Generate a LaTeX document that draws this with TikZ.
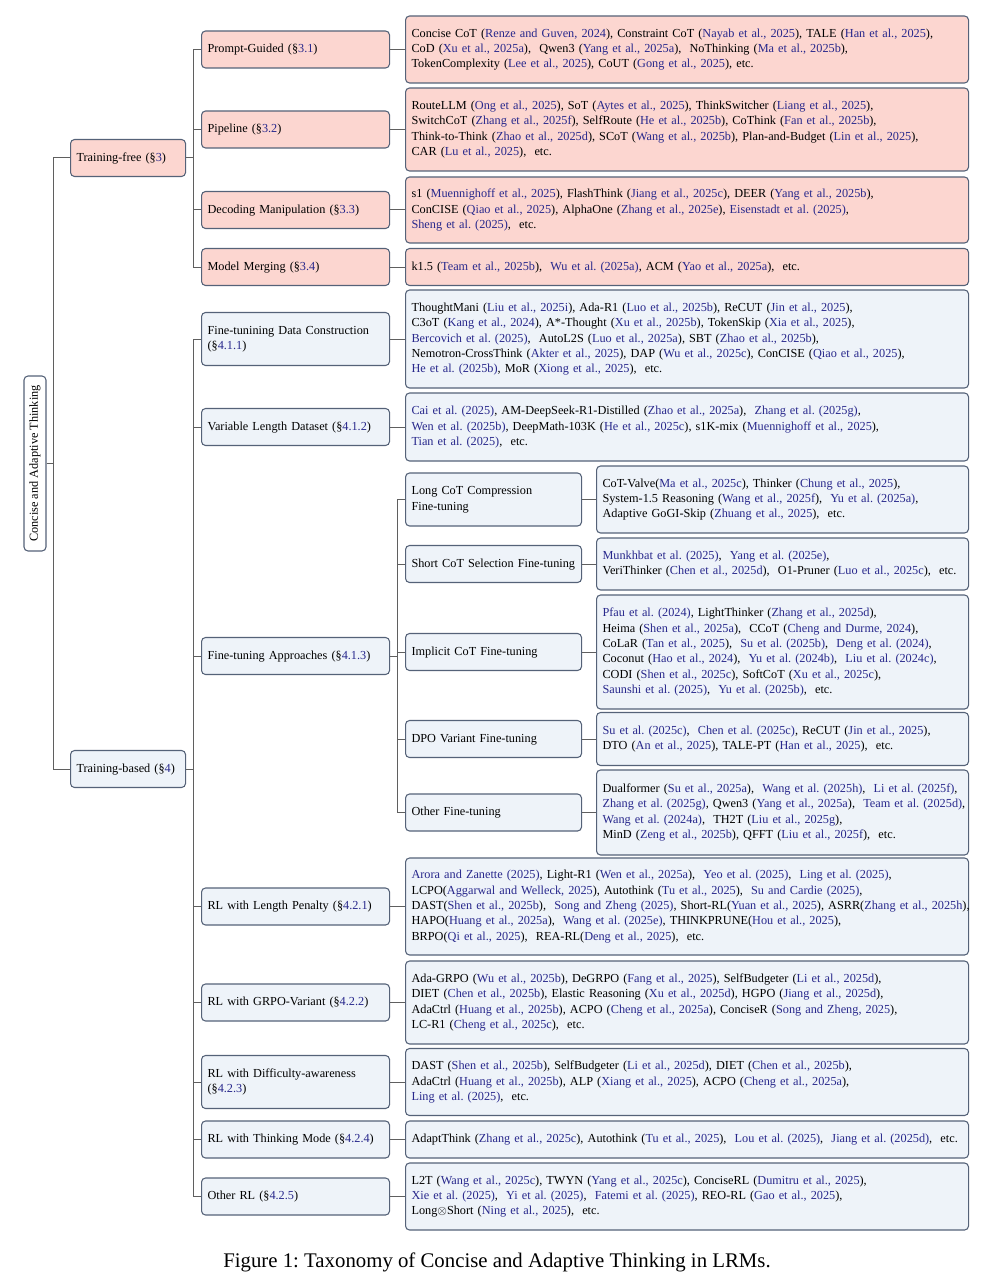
\documentclass[tikz,border=0pt]{standalone}
\usepackage{fontspec}
\setmainfont{Liberation Serif}
\frenchspacing
\definecolor{citec}{RGB}{40,40,140}
\definecolor{pinkc}{RGB}{252,214,208}
\definecolor{bluec}{RGB}{238,243,249}
\definecolor{bordc}{RGB}{85,98,120}
\definecolor{linec}{RGB}{95,95,95}
\newcommand{\myfs}{\fontsize{9.2}{11.5}\selectfont\frenchspacing}
\newcommand{\cb}[1]{\textcolor{citec}{#1}}
\newcommand{\ls}[1]{\noindent\begin{tabular}{@{}l@{}}#1\end{tabular}}
\tikzset{
  basebox/.style={draw=bordc, line width=0.8pt, rounded corners=3pt, inner xsep=4.5pt, inner ysep=0pt, anchor=west, font=\myfs, align=left},
  pinkbox/.style={basebox, fill=pinkc},
  bluebox/.style={basebox, fill=bluec},
  hh/.style={minimum height={#1*0.75pt}},
  lone/.style={text width=77.25pt},
  ltwo/.style={text width=132pt},
  lthree/.style={text width=123pt},
  leafa/.style={text width=413.25pt},
  leafb/.style={text width=270pt},
  conn/.style={draw=linec, line width=0.75pt},
}
\begin{document}
\begin{tikzpicture}[x=0.75pt,y=-0.75pt]
\useasboundingbox (0,0) rectangle (1005,1280);

% root
\node[draw=bordc, line width=0.8pt, rounded corners=3pt, fill=white, rotate=90, minimum width=131.25pt, minimum height=16.5pt, inner sep=0pt, font=\myfs] (root) at (35,463.5) {Concise and Adaptive Thinking};

% level 1
\node[pinkbox, lone, hh=37] (tf) at (70,158) {\ls{Training-free (§\cb{3})}};
\node[bluebox, lone, hh=37] (tb) at (70,769) {\ls{Training-based (§\cb{4})}};

% level 2 (training-free)
\node[pinkbox, ltwo, hh=37] (pg) at (201,49.5) {\ls{Prompt-Guided (§\cb{3.1})}};
\node[pinkbox, ltwo, hh=37] (pp) at (201,129.5) {\ls{Pipeline (§\cb{3.2})}};
\node[pinkbox, ltwo, hh=37] (dm) at (201,210) {\ls{Decoding Manipulation (§\cb{3.3})}};
\node[pinkbox, ltwo, hh=37] (mm) at (201,267) {\ls{Model Merging (§\cb{3.4})}};

% level 2 (training-based)
\node[bluebox, ltwo, hh=53] (fd) at (201,339) {\ls{Fine-tunining Data Construction\\(§\cb{4.1.1})}};
\node[bluebox, ltwo, hh=37] (vl) at (201,427) {\ls{Variable Length Dataset (§\cb{4.1.2})}};
\node[bluebox, ltwo, hh=37] (fa) at (201,656) {\ls{Fine-tuning Approaches (§\cb{4.1.3})}};
\node[bluebox, ltwo, hh=37] (rl) at (201,906.5) {\ls{RL with Length Penalty (§\cb{4.2.1})}};
\node[bluebox, ltwo, hh=37] (gr) at (201,1002.5) {\ls{RL with GRPO-Variant (§\cb{4.2.2})}};
\node[bluebox, ltwo, hh=53] (df) at (201,1082) {\ls{RL with Difficulty-awareness\\(§\cb{4.2.3})}};
\node[bluebox, ltwo, hh=37] (tm) at (201,1139.5) {\ls{RL with Thinking Mode (§\cb{4.2.4})}};
\node[bluebox, ltwo, hh=37] (orx) at (201,1196.5) {\ls{Other RL (§\cb{4.2.5})}};

% level 3
\node[bluebox, lthree, hh=53] (lc) at (405,499.5) {\ls{Long CoT Compression\\Fine-tuning}};
\node[bluebox, lthree, hh=37] (sc) at (405,564) {\ls{Short CoT Selection Fine-tuning}};
\node[bluebox, lthree, hh=37] (ic) at (405,652) {\ls{Implicit CoT Fine-tuning}};
\node[bluebox, lthree, hh=37] (dp) at (405,739) {\ls{DPO Variant Fine-tuning}};
\node[bluebox, lthree, hh=37] (of) at (405,812.5) {\ls{Other Fine-tuning}};

% leaves (training-free)
\node[pinkbox, leafa, hh=67] (pgl) at (405,49.5) {\ls{Concise CoT (\cb{Renze and Guven, 2024}), Constraint CoT (\cb{Nayab et al., 2025}), TALE (\cb{Han et al., 2025}),\\
CoD (\cb{Xu et al., 2025a}),~ Qwen3 (\cb{Yang et al., 2025a}),~ NoThinking (\cb{Ma et al., 2025b}),\\
TokenComplexity (\cb{Lee et al., 2025}), CoUT (\cb{Gong et al., 2025}), etc.}};
\node[pinkbox, leafa, hh=83] (ppl) at (405,129.5) {\ls{RouteLLM (\cb{Ong et al., 2025}), SoT (\cb{Aytes et al., 2025}), ThinkSwitcher (\cb{Liang et al., 2025}),\\
SwitchCoT (\cb{Zhang et al., 2025f}), SelfRoute (\cb{He et al., 2025b}), CoThink (\cb{Fan et al., 2025b}),\\
Think-to-Think (\cb{Zhao et al., 2025d}), SCoT (\cb{Wang et al., 2025b}), Plan-and-Budget (\cb{Lin et al., 2025}),\\
CAR (\cb{Lu et al., 2025}),~ etc.}};
\node[pinkbox, leafa, hh=66] (dml) at (405,210) {\ls{s1 (\cb{Muennighoff et al., 2025}), FlashThink (\cb{Jiang et al., 2025c}), DEER (\cb{Yang et al., 2025b}),\\
ConCISE (\cb{Qiao et al., 2025}), AlphaOne (\cb{Zhang et al., 2025e}), \cb{Eisenstadt et al. (2025)},\\
\cb{Sheng et al. (2025)},~ etc.}};
\node[pinkbox, leafa, hh=37] (mml) at (405,267) {\ls{k1.5 (\cb{Team et al., 2025b}),~ \cb{Wu et al. (2025a)}, ACM (\cb{Yao et al., 2025a}),~ etc.}};

% leaves (training-based, data)
\node[bluebox, leafa, hh=98] (fdl) at (405,339) {\ls{ThoughtMani (\cb{Liu et al., 2025i}), Ada-R1 (\cb{Luo et al., 2025b}), ReCUT (\cb{Jin et al., 2025}),\\
C3oT (\cb{Kang et al., 2024}), A*-Thought (\cb{Xu et al., 2025b}), TokenSkip (\cb{Xia et al., 2025}),\\
\cb{Bercovich et al. (2025)},~ AutoL2S (\cb{Luo et al., 2025a}), SBT (\cb{Zhao et al., 2025b}),\\
Nemotron-CrossThink (\cb{Akter et al., 2025}), DAP (\cb{Wu et al., 2025c}), ConCISE (\cb{Qiao et al., 2025}),\\
\cb{He et al. (2025b)}, MoR (\cb{Xiong et al., 2025}),~ etc.}};
\node[bluebox, leafa, hh=68] (vll) at (405,427) {\ls{\cb{Cai et al. (2025)}, AM-DeepSeek-R1-Distilled (\cb{Zhao et al., 2025a}),~ \cb{Zhang et al. (2025g)},\\
\cb{Wen et al. (2025b)}, DeepMath-103K (\cb{He et al., 2025c}), s1K-mix (\cb{Muennighoff et al., 2025}),\\
\cb{Tian et al. (2025)},~ etc.}};

% leaves (fine-tuning approaches)
\node[bluebox, leafb, hh=67] (lcl) at (596,499.5) {\ls{CoT-Valve(\cb{Ma et al., 2025c}), Thinker (\cb{Chung et al., 2025}),\\
System-1.5 Reasoning (\cb{Wang et al., 2025f}),~ \cb{Yu et al. (2025a)},\\
Adaptive GoGI-Skip (\cb{Zhuang et al., 2025}),~ etc.}};
\node[bluebox, leafb, hh=52] (scl) at (596,564) {\ls{\cb{Munkhbat et al. (2025)},~ \cb{Yang et al. (2025e)},\\
VeriThinker (\cb{Chen et al., 2025d}),~ O1-Pruner (\cb{Luo et al., 2025c}),~ etc.}};
\node[bluebox, leafb, hh=114] (icl) at (596,652) {\ls{\cb{Pfau et al. (2024)}, LightThinker (\cb{Zhang et al., 2025d}),\\
Heima (\cb{Shen et al., 2025a}),~ CCoT (\cb{Cheng and Durme, 2024}),\\
CoLaR (\cb{Tan et al., 2025}),~ \cb{Su et al. (2025b)},~ \cb{Deng et al. (2024)},\\
Coconut (\cb{Hao et al., 2024}),~ \cb{Yu et al. (2024b)},~ \cb{Liu et al. (2024c)},\\
CODI (\cb{Shen et al., 2025c}), SoftCoT (\cb{Xu et al., 2025c}),\\
\cb{Saunshi et al. (2025)},~ \cb{Yu et al. (2025b)},~ etc.}};
\node[bluebox, leafb, hh=53] (dpl) at (596,739) {\ls{\cb{Su et al. (2025c)},~ \cb{Chen et al. (2025c)}, ReCUT (\cb{Jin et al., 2025}),\\
DTO (\cb{An et al., 2025}), TALE-PT (\cb{Han et al., 2025}),~ etc.}};
\node[bluebox, leafb, hh=85] (ofl) at (596,812.5) {\ls{Dualformer (\cb{Su et al., 2025a}),~ \cb{Wang et al. (2025h)},~ \cb{Li et al. (2025f)},\\
\cb{Zhang et al. (2025g)}, Qwen3 (\cb{Yang et al., 2025a}),~ \cb{Team et al. (2025d)},\\
\cb{Wang et al. (2024a)},~ TH2T (\cb{Liu et al., 2025g}),\\
MinD (\cb{Zeng et al., 2025b}), QFFT (\cb{Liu et al., 2025f}),~ etc.}};

% leaves (RL)
\node[bluebox, leafa, hh=97] (rll) at (405,906.5) {\ls{\cb{Arora and Zanette (2025)}, Light-R1 (\cb{Wen et al., 2025a}),~ \cb{Yeo et al. (2025)},~ \cb{Ling et al. (2025)},\\
LCPO(\cb{Aggarwal and Welleck, 2025}), Autothink (\cb{Tu et al., 2025}),~ \cb{Su and Cardie (2025)},\\
DAST(\cb{Shen et al., 2025b}),~ \cb{Song and Zheng (2025)}, Short-RL(\cb{Yuan et al., 2025}), ASRR(\cb{Zhang et al., 2025h}),\\
HAPO(\cb{Huang et al., 2025a}),~ \cb{Wang et al. (2025e)}, THINKPRUNE(\cb{Hou et al., 2025}),\\
BRPO(\cb{Qi et al., 2025}),~ REA-RL(\cb{Deng et al., 2025}),~ etc.}};
\node[bluebox, leafa, hh=83] (grl) at (405,1002.5) {\ls{Ada-GRPO (\cb{Wu et al., 2025b}), DeGRPO (\cb{Fang et al., 2025}), SelfBudgeter (\cb{Li et al., 2025d}),\\
DIET (\cb{Chen et al., 2025b}), Elastic Reasoning (\cb{Xu et al., 2025d}), HGPO (\cb{Jiang et al., 2025d}),\\
AdaCtrl (\cb{Huang et al., 2025b}), ACPO (\cb{Cheng et al., 2025a}), ConciseR (\cb{Song and Zheng, 2025}),\\
LC-R1 (\cb{Cheng et al., 2025c}),~ etc.}};
\node[bluebox, leafa, hh=67] (dfl) at (405,1082) {\ls{DAST (\cb{Shen et al., 2025b}), SelfBudgeter (\cb{Li et al., 2025d}), DIET (\cb{Chen et al., 2025b}),\\
AdaCtrl (\cb{Huang et al., 2025b}), ALP (\cb{Xiang et al., 2025}), ACPO (\cb{Cheng et al., 2025a}),\\
\cb{Ling et al. (2025)},~ etc.}};
\node[bluebox, leafa, hh=37] (tml) at (405,1139.5) {\ls{AdaptThink (\cb{Zhang et al., 2025c}), Autothink (\cb{Tu et al., 2025}),~ \cb{Lou et al. (2025)},~ \cb{Jiang et al. (2025d)},~ etc.}};
\node[bluebox, leafa, hh=67] (orl) at (405,1196.5) {\ls{L2T (\cb{Wang et al., 2025c}), TWYN (\cb{Yang et al., 2025c}), ConciseRL (\cb{Dumitru et al., 2025}),\\
\cb{Xie et al. (2025)},~ \cb{Yi et al. (2025)},~ \cb{Fatemi et al. (2025)}, REO-RL (\cb{Gao et al., 2025}),\\
Long$\otimes$Short (\cb{Ning et al., 2025}),~ etc.}};

% caption
\node[font=\fontsize{15.6}{18}\selectfont, inner sep=0pt] (cap) at (497,1262) {Figure 1: Taxonomy of Concise and Adaptive Thinking in LRMs.};

% connectors
\draw[conn] (root.south) -- ++(7,0) |- (tf.west);
\draw[conn] (root.south) -- ++(7,0) |- (tb.west);
\foreach \c in {pg,pp,dm,mm} \draw[conn] (tf.east) -- ++(7,0) |- (\c.west);
\foreach \c in {fd,vl,fa,rl,gr,df,tm,orx} \draw[conn] (tb.east) -- ++(7,0) |- (\c.west);
\foreach \c in {lc,sc,ic,dp,of} \draw[conn] (fa.east) -- ++(7,0) |- (\c.west);
\foreach \a/\b in {pg/pgl,pp/ppl,dm/dml,mm/mml,fd/fdl,vl/vll,rl/rll,gr/grl,df/dfl,tm/tml,orx/orl,lc/lcl,sc/scl,ic/icl,dp/dpl,of/ofl}
  \draw[conn] (\a.east) -- (\a.east -| \b.west);
\end{tikzpicture}
\end{document}
